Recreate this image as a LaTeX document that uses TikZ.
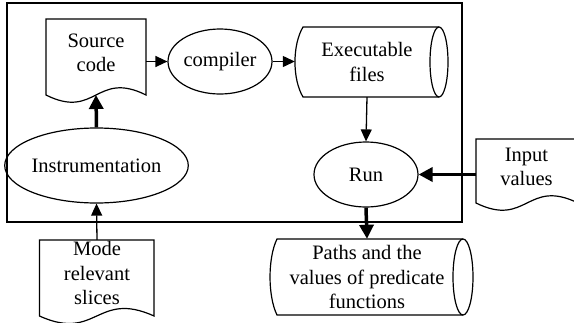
\documentclass[tikz,border=0pt]{standalone}
\usepackage{fontspec}
\setmainfont{Liberation Serif}
\usetikzlibrary{shapes.geometric,arrows.meta}

\tikzset{
  ell/.style={ellipse, draw, line width=1.2pt, inner sep=0pt},
  lbl/.style={align=center, inner sep=0pt},
  shapeline/.style={line width=1.2pt, line join=miter},
  frameline/.style={line width=1.8pt},
  thinarrow/.style={line width=1.3pt, -{Triangle[length=12pt,width=11pt]}},
  thickarrow/.style={line width=3.5pt, -{Triangle[length=14pt,width=14pt]}},
}

\begin{document}
\begin{tikzpicture}[x=1pt, y=-1pt, font=\fontsize{20.5}{24.5}\selectfont]
\useasboundingbox (0,0) rectangle (574,322);

% enclosing frame
\draw[frameline] (7,3) rectangle (462,222);

% document shapes (flat top, wavy bottom)
\draw[shapeline] (46,19) -- (146,19) -- (146,95)
  .. controls (96,70) and (96,120) .. (46,95) -- cycle;
\draw[shapeline] (39.5,240) -- (154,240) -- (154,316)
  .. controls (96.75,290) and (96.75,342) .. (39.5,316) -- cycle;
\draw[shapeline] (476,139) -- (578,139) -- (578,203)
  .. controls (527,178) and (527,228) .. (476,203) -- cycle;

% stored-data shapes (horizontal cylinders)
\draw[shapeline] (439,27) -- (303,27)
  .. controls (292.3,45) and (292.3,79) .. (303,97) -- (439,97);
\draw[shapeline] (439,62) ellipse [x radius=9, y radius=35];
\draw[shapeline] (463,239) -- (277,239)
  .. controls (267.7,258) and (267.7,296) .. (277,315) -- (463,315);
\draw[shapeline] (463,277) ellipse [x radius=10, y radius=38];

% process nodes
\node[ell, minimum width=104pt, minimum height=65pt] (comp) at (220,61.5) {compiler};
\node[ell, minimum width=104pt, minimum height=65pt] (run) at (366,174.5) {Run};
\node[ell, minimum width=161pt, minimum height=75pt] (instr) at (96.5,165.5) {Instrumentation};

% text of documents and stores
\node[lbl, minimum width=100pt, minimum height=70pt] (src) at (96,53) {Source\\code};
\coordinate (srcB) at (96,95);
\node[lbl, minimum width=115pt, minimum height=66pt] (mode) at (97,273) {Mode\\relevant\\slices};
\node[lbl, minimum width=101pt, minimum height=56pt] (inp) at (526.5,167) {Input\\values};
\node[lbl, minimum width=144pt, minimum height=70pt] (exe) at (367,62) {Executable\\files};
\node[lbl, minimum width=194pt, minimum height=76pt] (paths) at (367,277) {Paths and the\\values of predicate\\functions};

% connectors
\draw[thinarrow] (src.east |- comp.west) -- (comp.west);
\draw[thinarrow] (comp.east) -- (comp.east -| exe.west);
\draw[thinarrow] (exe.south) -- (run.north);
\draw[thickarrow] (instr.north) -- (srcB);
\draw[thinarrow] (mode.north) -- (instr.south);
\draw[thickarrow] (inp.west |- run.east) -- (run.east);
\draw[thickarrow] (run.south) -- (paths.north);
\end{tikzpicture}
\end{document}
